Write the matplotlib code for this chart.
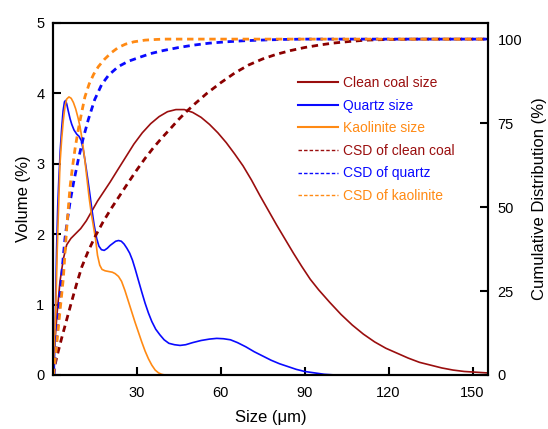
import matplotlib
matplotlib.use("Agg")
import matplotlib.pyplot as plt
from matplotlib.lines import Line2D

plt.rcParams['font.family'] = ['Liberation Sans', 'DejaVu Sans']

# Particle size distributions (volume %)
coal_size = [0, 0.4, 0.8, 1.5, 2.6, 3.8, 5, 6.5, 8, 10, 12, 14, 16, 18, 20.5, 23, 26, 29, 32, 35,
             38, 41, 44, 47, 50, 53, 56, 59, 62, 65, 68, 71, 74, 77, 80, 83, 86, 89, 92, 95, 99,
             103, 107, 111, 115, 119, 123, 127, 131, 135, 139, 143, 147, 151, 155]
coal_vol = [0, 0.25, 0.47, 0.85, 1.33, 1.65, 1.85, 1.94, 2.0, 2.08, 2.19, 2.33, 2.47, 2.59, 2.74,
            2.90, 3.09, 3.28, 3.44, 3.57, 3.67, 3.74, 3.77, 3.77, 3.73, 3.66, 3.56, 3.44, 3.30,
            3.14, 2.97, 2.77, 2.55, 2.34, 2.13, 1.93, 1.73, 1.54, 1.36, 1.21, 1.03, 0.86, 0.71,
            0.58, 0.47, 0.38, 0.31, 0.24, 0.18, 0.14, 0.10, 0.07, 0.05, 0.04, 0.03]

quartz_size = [0.5, 0.8, 1.1, 1.4, 1.8, 2.2, 2.7, 3.2, 3.7, 4.2, 4.6, 5.0, 5.5, 6.2, 6.8, 7.6, 8.6,
               9.4, 10.2, 11, 11.8, 12.6, 13.3, 14, 14.8, 15.7, 16.5, 17.4, 18.4, 19.5, 20.5,
               21.5, 22.5, 23.5, 24.5, 25.5, 26.5, 27.5, 28.5, 29.5, 30.5, 31.8, 33, 34.2, 35.4,
               36.8, 38.3, 39.8, 41.5, 43.5, 45.5, 47.5, 50, 53, 56, 58.6, 61, 63.5, 66, 69, 72,
               75, 78, 81, 84, 87, 90, 93.5, 97, 101]
quartz_vol = [0, 0.5, 1.2, 1.8, 2.4, 2.8, 3.2, 3.5, 3.75, 3.88, 3.9, 3.85, 3.76, 3.64, 3.56, 3.48,
              3.42, 3.39, 3.33, 3.18, 2.98, 2.76, 2.56, 2.35, 2.13, 1.94, 1.83, 1.78, 1.77, 1.80,
              1.84, 1.87, 1.90, 1.91, 1.90, 1.86, 1.80, 1.73, 1.63, 1.50, 1.36, 1.18, 1.02, 0.88,
              0.76, 0.65, 0.57, 0.50, 0.45, 0.43, 0.42, 0.43, 0.46, 0.49, 0.51, 0.52, 0.515, 0.50,
              0.46, 0.40, 0.33, 0.27, 0.21, 0.16, 0.12, 0.08, 0.05, 0.03, 0.01, 0]

kaolin_size = [0, 0.4, 0.8, 1.2, 1.6, 2.1, 2.6, 3.2, 3.8, 4.4, 5.0, 5.8, 6.6, 7.4, 8.2, 9.0, 9.8,
               10.6, 11.4, 12.2, 13, 13.8, 14.6, 15.3, 16, 16.8, 17.6, 18.7, 20, 21.3, 22.3, 23.5,
               24.6, 25.8, 27, 28.2, 29.4, 30.6, 31.8, 33, 34.2, 35.4, 36.6, 37.8, 38.9, 40, 44]
kaolin_vol = [0, 0.25, 0.57, 1.1, 1.75, 2.4, 3.0, 3.35, 3.62, 3.82, 3.92, 3.95, 3.93, 3.87, 3.78,
              3.66, 3.52, 3.32, 3.08, 2.80, 2.52, 2.29, 2.10, 1.93, 1.70, 1.56, 1.50, 1.48, 1.47,
              1.46, 1.44, 1.40, 1.33, 1.20, 1.05, 0.90, 0.75, 0.61, 0.47, 0.34, 0.23, 0.14, 0.07,
              0.03, 0.01, 0, 0]

# Cumulative size distributions (%)
coal_csd_size = [0, 1.5, 3.2, 5, 6.8, 8.6, 10.4, 12.5, 15, 18, 21, 24, 27, 30, 33, 36, 39, 42, 45,
                 48, 51, 55, 60, 65, 70, 75, 80, 85, 90, 95, 100, 106, 112, 120, 130, 155]
coal_csd = [0, 5.5, 11, 16.5, 22, 27.3, 32.2, 36.5, 41, 45.6, 49.7, 53.5, 57.3, 61, 64.5, 67.7,
            70.6, 73.3, 76.1, 78.6, 80.9, 83.8, 87.0, 89.9, 92.3, 94.1, 95.5, 96.6, 97.5, 98.2,
            98.8, 99.3, 99.7, 99.9, 100, 100]

quartz_csd_size = [0.5, 1.0, 1.4, 2.0, 2.6, 3.2, 3.8, 4.4, 5.3, 6.2, 7.5, 9.1, 10.9, 12.7, 15,
                   17.5, 20, 23.4, 27, 31.8, 35, 39.5, 45, 50.2, 56, 62, 68, 74, 82, 90, 155]
quartz_csd = [0, 6, 11, 17.5, 23.8, 29.5, 35.5, 40.8, 46.5, 51.5, 57.5, 64, 70.5, 76, 82, 86.5,
              89.3, 91.8, 93.4, 94.8, 95.7, 96.6, 97.5, 98.2, 98.8, 99.2, 99.5, 99.7, 99.9, 100, 100]

kaolin_csd_size = [0.3, 0.8, 1.4, 2, 2.9, 3.8, 4.4, 5, 5.6, 6.2, 7, 8, 9.1, 10.3, 11.5, 13, 14.6,
                   16.3, 18.5, 21, 23.4, 26, 29, 33, 37, 40, 155]
kaolin_csd = [0, 4, 9, 14, 21.5, 28.9, 36.5, 43.8, 50, 56, 61.5, 67.5, 72.9, 78, 82.8, 86.6, 89.5,
              91.8, 94, 96, 97.5, 98.5, 99.2, 99.7, 99.9, 100, 100]

x_ticks = [30, 60, 90, 120, 150]
left_ticks = [0, 1, 2, 3, 4, 5]
right_ticks = [0, 25, 50, 75, 100]

labels = ['Clean coal size', 'Quartz size', 'Kaolinite size',
          'CSD of clean coal', 'CSD of quartz', 'CSD of kaolinite']

RED = '#9A0E0E'
BLUE = '#0A0AFF'
ORANGE = '#FF8A14'

fig = plt.figure(figsize=(5.48, 4.29), dpi=100)
ax = fig.add_axes([0.0962, 0.1259, 0.7943, 0.8205])
ax2 = ax.twinx()

lw_solid = 1.2
ax.plot(coal_size, coal_vol, color=RED, lw=lw_solid)
ax.plot(quartz_size, quartz_vol, color=BLUE, lw=lw_solid)
ax.plot(kaolin_size, kaolin_vol, color=ORANGE, lw=lw_solid)

dash = (0, (2.3, 1.7))
ax2.plot(coal_csd_size, coal_csd, color='#8B0000', lw=2.0, linestyle=dash)
ax2.plot(quartz_csd_size, quartz_csd, color=BLUE, lw=2.0, linestyle=dash)
ax2.plot(kaolin_csd_size, kaolin_csd, color=ORANGE, lw=2.0, linestyle=dash)

ax.set_xlim(0, 155.5)
ax.set_ylim(0, 5)
ax2.set_ylim(0, 104.8)
ax.set_xticks(x_ticks)
ax.set_yticks(left_ticks)
ax2.set_yticks(right_ticks)

for a in (ax, ax2):
    for s in a.spines.values():
        s.set_linewidth(1.5)
ax.tick_params(axis='both', direction='in', length=5.5, width=1.5, labelsize=10.5)
ax.tick_params(axis='x', pad=8)
ax.tick_params(axis='y', pad=6)
ax2.tick_params(axis='y', direction='in', length=5.5, width=1.5, labelsize=10.5, pad=7)

ax.set_xlabel('Size (μm)', fontsize=12, labelpad=7)
ax.set_ylabel('Volume (%)', fontsize=12, labelpad=4)
ax2.set_ylabel('Cumulative Distribution (%)', fontsize=12, labelpad=7)

colors = [RED, BLUE, ORANGE, RED, BLUE, ORANGE]
handles = []
for i, c in enumerate(colors):
    if i < 3:
        handles.append(Line2D([], [], color=c, lw=1.5))
    else:
        handles.append(Line2D([], [], color=c, lw=1.0, linestyle=(0, (2.5, 1.5))))
leg = ax2.legend(handles, labels, loc='upper left', bbox_to_anchor=(298 / 548, 1 - 76 / 429),
                 bbox_transform=fig.transFigure, frameon=False, fontsize=10,
                 handlelength=2.9, handletextpad=0.35, labelspacing=0.62, borderpad=0,
                 borderaxespad=0)
for t, c in zip(leg.get_texts(), colors):
    t.set_color(c)

fig.savefig('out.png', dpi=100)
